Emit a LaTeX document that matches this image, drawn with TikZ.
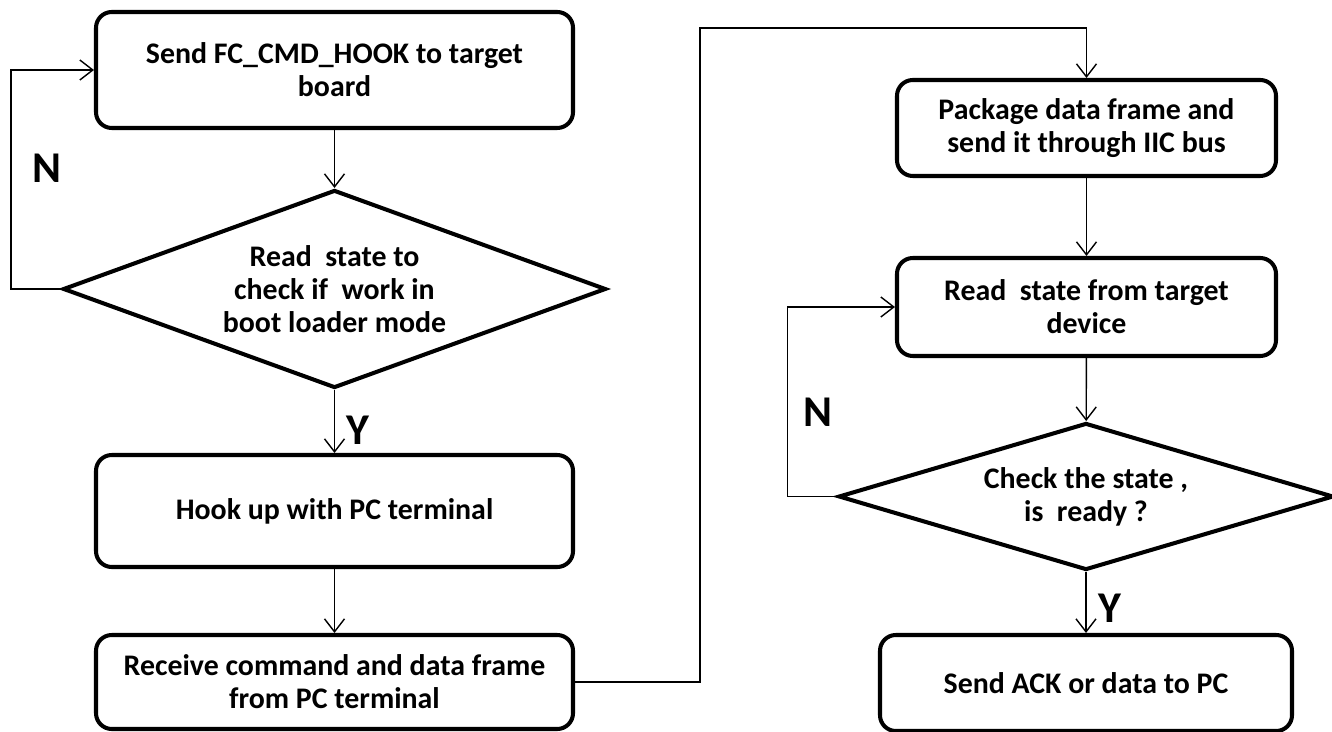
\documentclass[tikz,border=0pt]{standalone}
\usepackage{fontspec}
\setmainfont{Carlito}
\usetikzlibrary{arrows.meta, shapes.geometric}

\begin{document}
\begin{tikzpicture}[
    stepbox/.style={draw, line width=2.3pt, rounded corners=9pt, align=center,
      inner sep=0pt, font=\bfseries\fontsize{17}{18.8}\selectfont},
    checkbox/.style={draw, diamond, line width=2.3pt, align=center, inner sep=0pt,
      font=\bfseries\fontsize{17}{18.8}\selectfont},
    flow/.style={-{Straight Barb[length=2.6mm, width=4mm]}, line width=0.8pt},
    answer/.style={font=\bfseries\fontsize{25}{30}\selectfont}
  ]
        \useasboundingbox (0,0) rectangle (26.64,-14.64);

        % left column
        \node[stepbox, minimum width=9.54cm, minimum height=2.32cm] (hook) at (6.69,-1.40) {Send FC\_CMD\_HOOK to target\\board};
        \node[checkbox, shape aspect=2.74, minimum width=10.86cm, minimum height=3.96cm] (bootcheck) at (6.69,-5.78) {Read\ \ state to\\check if\ \ work in\\boot loader mode};
        \node[stepbox, minimum width=9.54cm, minimum height=2.24cm] (hookup) at (6.69,-10.22) {Hook up with PC terminal};
        \node[stepbox, minimum width=9.54cm, minimum height=1.88cm] (receive) at (6.69,-13.64) {Receive command and data frame\\from PC terminal};

        % right column
        \node[stepbox, minimum width=7.58cm, minimum height=1.92cm] (package) at (21.73,-2.56) {Package data frame and\\send it through IIC bus};
        \node[stepbox, minimum width=7.58cm, minimum height=1.96cm] (readstate) at (21.73,-6.14) {Read\ \ state from target\\device};
        \node[checkbox, shape aspect=3.37, minimum width=9.9cm, minimum height=2.94cm] (readycheck) at (21.72,-9.93) {Check the state ,\\is\ \ ready ?};
        \node[stepbox, minimum width=8.24cm, minimum height=1.92cm] (sendack) at (21.72,-13.66) {Send ACK or data to PC};

        \coordinate (turn) at (14.0,-0.56);

        \draw[flow] (hook) -- (bootcheck);
        \draw[flow] (bootcheck.west) -- ++(-1.0,0) |- (hook.west);
        \draw[flow] (bootcheck) -- (hookup);
        \draw[flow] (hookup) -- (receive);
        \draw[flow] (receive.east) -| (turn) -| (package.north);
        \draw[flow] (package) -- (readstate);
        \draw[flow] (readstate) -- (readycheck);
        \draw[flow] (readycheck.west) -- ++(-0.98,0) |- (readstate.west);
        \draw[flow] (readycheck) -- (sendack);

        \node[answer] (no1) at (0.94,-3.36) {N};
        \node[answer] (yes1) at (7.16,-8.60) {Y};
        \node[answer] (no2) at (16.36,-8.24) {N};
        \node[answer] (yes2) at (22.20,-12.16) {Y};

    \end{tikzpicture}
\end{document}
